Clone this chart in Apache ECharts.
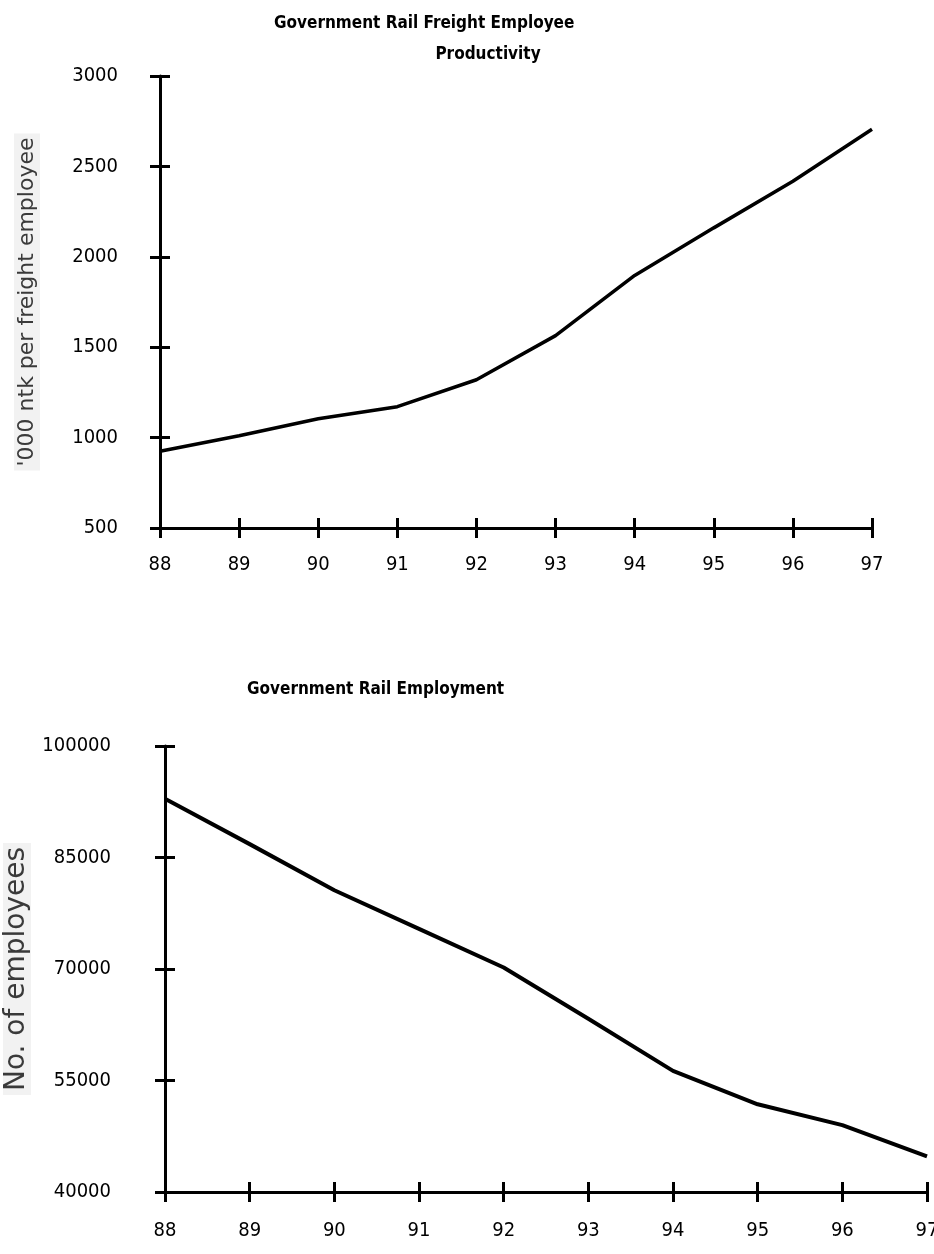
<!DOCTYPE html>
<html>
<head>
<meta charset="utf-8">
<script src="https://cdn.jsdelivr.net/npm/echarts@6/dist/echarts.min.js"></script>
<style>
html,body{margin:0;padding:0;background:#fff;}
#c{width:934px;height:1254px;}
</style>
</head>
<body>
<div id="c"></div>
<script>
const years = ['88','89','90','91','92','93','94','95','96','97'];
const productivity = [925, 1010, 1104, 1171, 1320, 1564, 1897, 2160, 2418, 2705];
const employment = [92900, 86800, 80600, 75400, 70200, 63300, 56300, 51800, 49000, 44800];
const prodTicks = [500, 1000, 1500, 2000, 2500, 3000];
const empTicks = [40000, 55000, 70000, 85000, 100000];
const title1a = 'Government Rail Freight Employee';
const title1b = 'Productivity';
const title2 = 'Government Rail Employment';
const yName1 = "'000 ntk per freight employee";
const yName2 = 'No. of employees';

const FONT = '"Liberation Sans Narrow", "DejaVu Sans Condensed", "Liberation Sans", sans-serif';
const chart = echarts.init(document.getElementById('c'), null, {renderer:'canvas'});

const axisLineStyle = {show:true, lineStyle:{color:'#000', width:3}};
const tickOut = {show:true, length:10, inside:false, alignWithLabel:true, lineStyle:{color:'#000', width:3}};
const tickIn = {show:true, length:10, inside:true, alignWithLabel:true, lineStyle:{color:'#000', width:3}};
const labelStyle = {color:'#000', fontFamily:FONT, fontSize:20, formatter:function(v){return String(v);}};

function xAxes(grid, margin){
  return [
    {type:'category', gridIndex:grid, data:years, boundaryGap:false, position:'bottom',
     axisLine:axisLineStyle, axisTick:tickOut, axisLabel:Object.assign({margin:margin}, labelStyle), splitLine:{show:false}},
    {type:'category', gridIndex:grid, data:years, boundaryGap:false, position:'bottom',
     axisLine:{show:false}, axisTick:tickIn, axisLabel:{show:false}, splitLine:{show:false}}
  ];
}

const option = {
  animation:false,
  backgroundColor:'#fff',
  graphic:[
    {type:'text', x:274, y:24, style:{text:title1a, align:'left', verticalAlign:'middle', font:'bold 17px '+FONT, fill:'#000'}},
    {type:'text', x:488, y:55, style:{text:title1b, align:'center', verticalAlign:'middle', font:'bold 17px '+FONT, fill:'#000'}},
    {type:'text', x:247, y:690, style:{text:title2, align:'left', verticalAlign:'middle', font:'bold 17px '+FONT, fill:'#000'}}
  ],
  grid:[
    {left:160, top:76, width:712, height:452, containLabel:false, outerBoundsMode:'none'},
    {left:165, top:746, width:762, height:446, containLabel:false, outerBoundsMode:'none'}
  ],
  xAxis: xAxes(0, 27).concat(xAxes(1, 29)),
  yAxis:[
    {type:'value', gridIndex:0, min:500, max:3000, interval:500, position:'left',
     name:yName1, nameLocation:'middle', nameGap:120, nameRotate:90,
     nameTextStyle:{color:'#3a3a3a', fontFamily:'"DejaVu Sans", sans-serif', fontSize:22, backgroundColor:'#f2f2f2', padding:[2,4]},
     axisLine:axisLineStyle, axisTick:Object.assign({}, tickOut, {alignWithLabel:false}),
     axisLabel:Object.assign({margin:42}, labelStyle), splitLine:{show:false}},
    {type:'value', gridIndex:0, min:500, max:3000, interval:500, position:'left',
     axisLine:{show:false}, axisTick:Object.assign({}, tickIn, {alignWithLabel:false}), axisLabel:{show:false}, splitLine:{show:false}},
    {type:'value', gridIndex:1, min:40000, max:100000, position:'left',
     name:yName2, nameLocation:'middle', nameGap:134, nameRotate:90,
     nameTextStyle:{color:'#3a3a3a', fontFamily:'"DejaVu Sans", sans-serif', fontSize:28, backgroundColor:'#f2f2f2', padding:[0,4]},
     axisLine:axisLineStyle,
     axisTick:Object.assign({}, tickOut, {alignWithLabel:false, customValues:empTicks}),
     axisLabel:Object.assign({margin:54, customValues:empTicks}, labelStyle), splitLine:{show:false}},
    {type:'value', gridIndex:1, min:40000, max:100000, position:'left',
     axisLine:{show:false}, axisTick:Object.assign({}, tickIn, {alignWithLabel:false, customValues:empTicks}),
     axisLabel:{show:false, customValues:empTicks}, splitLine:{show:false}}
  ],
  series:[
    {type:'line', xAxisIndex:0, yAxisIndex:0, data:productivity, showSymbol:false, symbol:'none',
     lineStyle:{color:'#000', width:3.5}, z:5},
    {type:'line', xAxisIndex:2, yAxisIndex:2, data:employment, showSymbol:false, symbol:'none',
     lineStyle:{color:'#000', width:4}, z:5}
  ]
};
chart.setOption(option);
</script>
</body>
</html>
